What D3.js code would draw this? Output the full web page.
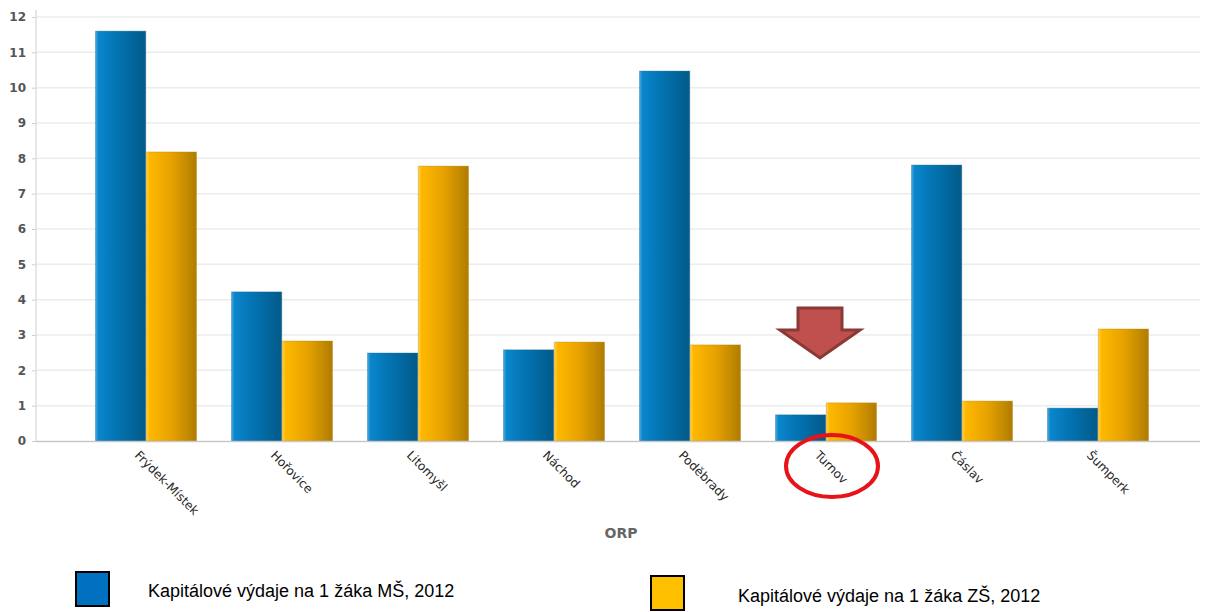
<!DOCTYPE html>
<html>
<head>
<meta charset="utf-8">
<script src="https://cdn.jsdelivr.net/npm/d3@7"></script>
<style>
body{margin:0;background:#fff;}
svg{display:block;}
</style>
</head>
<body>
<div class="chart"></div>
<script>
const categories = ['Frýdek-Místek','Hořovice','Litomyšl','Náchod','Poděbrady','Turnov','Čáslav','Šumperk'];
const seriesNames = ['Kapitálové výdaje na 1 žáka MŠ, 2012','Kapitálové výdaje na 1 žáka ZŠ, 2012'];
const valuesMS = [11.6, 4.22, 2.49, 2.58, 10.47, 0.74, 7.81, 0.93];
const valuesZS = [8.18, 2.83, 7.78, 2.80, 2.72, 1.08, 1.13, 3.17];
const yTicks = [0,1,2,3,4,5,6,7,8,9,10,11,12];
const highlight = 'Turnov';

const W = 1209, H = 612;
const svg = d3.select('.chart').append('svg').attr('width', W).attr('height', H);

const defs = svg.append('defs');
function grad(id, stops){
	const g = defs.append('linearGradient').attr('id', id).attr('x1','0').attr('x2','1').attr('y1','0').attr('y2','0');
	stops.forEach(s => g.append('stop').attr('offset', s[0]).attr('stop-color', s[1]));
}
grad('gBlue', [[0,'#4aa6dc'],[0.06,'#0a86cc'],[0.5,'#0270ad'],[1,'#035a88']]);
grad('gYellow', [[0,'#ffd35a'],[0.06,'#ffb800'],[0.5,'#e7a200'],[1,'#b07c00']]);

const x0 = d3.scaleBand().domain(categories).range([78, 1166]).paddingInner(0.25).paddingOuter(0.125);
const x1 = d3.scaleBand().domain([0,1]).range([0, x0.bandwidth()]).padding(0.01);
const y = d3.scaleLinear().domain([0, 12]).range([441, 17]);

// grid
svg.append('g').selectAll('line').data(yTicks.slice(1)).join('line')
	.attr('x1', 37).attr('x2', 1200)
	.attr('y1', d => y(d)).attr('y2', d => y(d))
	.attr('stroke', '#ececec').attr('stroke-width', 1.5);

// y axis
const yAxis = svg.append('g').attr('transform', 'translate(36,0)')
	.call(d3.axisLeft(y).tickValues(yTicks).tickSize(4).tickPadding(6));
yAxis.select('.domain').attr('stroke', '#cfcfcf').attr('d', `M-0,${y(12)-7}V${y(0)}`);
yAxis.selectAll('.tick line').attr('stroke', '#cfcfcf');
yAxis.selectAll('text').attr('font-family', 'DejaVu Sans, Verdana, sans-serif').attr('font-size', 12)
	.attr('font-weight', 'bold').attr('fill', '#555');

// bars
const rows = categories.map((c, i) => ({cat: c, vals: [valuesMS[i], valuesZS[i]]}));
const fills = ['url(#gBlue)', 'url(#gYellow)'];
const strokes = ['#0b5f8f', '#b48200'];
const grp = svg.append('g').selectAll('g').data(rows).join('g')
	.attr('transform', d => `translate(${x0(d.cat)},0)`);
grp.selectAll('rect').data(d => d.vals.map((v, k) => ({v, k}))).join('rect')
	.attr('x', d => x1(d.k)).attr('width', x1.bandwidth())
	.attr('y', d => y(d.v)).attr('height', d => y(0) - y(d.v))
	.attr('fill', d => fills[d.k]).attr('stroke', d => strokes[d.k]).attr('stroke-opacity', 0.35);

// x axis line
svg.append('line').attr('x1', 36).attr('x2', 1200).attr('y1', y(0) + 0.5).attr('y2', y(0) + 0.5)
	.attr('stroke', '#c8c8c8').attr('stroke-width', 1.5);

// category labels
svg.append('g').selectAll('text').data(categories).join('text')
	.attr('transform', d => `translate(${x0(d) + x0.bandwidth() / 2 - 9},${y(0) + 12}) rotate(45)`)
	.attr('font-family', 'DejaVu Sans, Verdana, sans-serif').attr('font-size', 12.2)
	.attr('fill', '#2a2a2a').attr('dy', '0.35em')
	.text(d => d);

svg.append('text').attr('x', 621).attr('y', 538).attr('text-anchor', 'middle')
	.attr('font-family', 'DejaVu Sans, Verdana, sans-serif').attr('font-size', 14).attr('font-weight', 'bold')
	.attr('fill', '#666').text('ORP');

// annotations: arrow and ellipse at highlighted category
const hx = x0(highlight) + x0.bandwidth() / 2;
const arrow = [[-22,0],[22,0],[22,22],[40,22],[0,50],[-40,22],[-22,22]];
svg.append('path')
	.attr('d', d3.line()(arrow.map(p => [hx - 6 + p[0], 308 + p[1]])) + 'Z')
	.attr('fill', '#c0504d').attr('stroke', '#8c3836').attr('stroke-width', 3).attr('stroke-linejoin', 'miter');
svg.append('ellipse').attr('cx', hx + 6).attr('cy', 466).attr('rx', 46).attr('ry', 31)
	.attr('fill', 'none').attr('stroke', '#e8121b').attr('stroke-width', 4);

// legend
const legend = [
	{name: seriesNames[0], color: '#0070c0', bx: 76, by: 572, tx: 148, ty: 597},
	{name: seriesNames[1], color: '#ffc000', bx: 651, by: 576, tx: 738, ty: 602}
];
const lg = svg.append('g').selectAll('g').data(legend).join('g');
lg.append('rect').attr('x', d => d.bx).attr('y', d => d.by).attr('width', 33).attr('height', 34)
	.attr('fill', d => d.color).attr('stroke', '#000').attr('stroke-width', 2);
lg.append('text').attr('x', d => d.tx).attr('y', d => d.ty)
	.attr('font-family', 'Liberation Sans, Arial, sans-serif').attr('font-size', 18).attr('fill', '#000')
	.text(d => d.name);
</script>
</body>
</html>
